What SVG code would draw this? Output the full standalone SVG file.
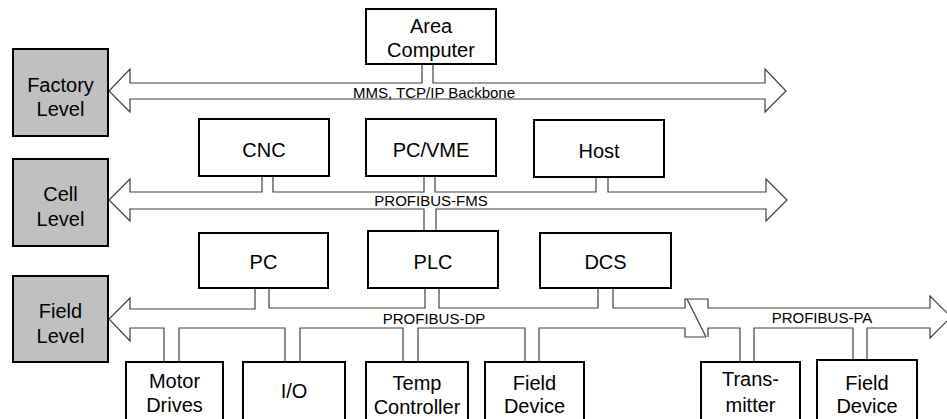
<svg xmlns="http://www.w3.org/2000/svg" width="947" height="419" viewBox="0 0 947 419">
<style>
.box{fill:#fff;stroke:#000;stroke-width:2}
.lvl{fill:#c0c0c0;stroke:#000;stroke-width:2}
.t{font-family:"Liberation Sans",Arial,sans-serif;font-size:20px;fill:#000;text-anchor:middle}
.bl{font-family:"Liberation Sans",Arial,sans-serif;font-size:15px;fill:#000;text-anchor:middle}
.bus{fill:#fff;stroke:#404040;stroke-width:1.2}
.ln{fill:none;stroke:#404040;stroke-width:1.2}
</style>
<rect width="947" height="419" fill="#fff"/>
<g id="connectors">
<path class="bus" d="M422,64 V83 H130 V69 L109,91 L130,112 V99 H765 V112 L786,91 L765,69 V83 H433 V64"/>
<path class="bus" d="M262,176 V192 H130 V179 L109,200 L130,221 V209 H424 V231 M436,231 V209 H766 V221 L787,200 L766,179 V192 H608 V177 M596,177 V192 H435 V176 M424,176 V192 H273 V176"/>
<path class="bus" d="M255,288 V309 H130 V298 L109,319 L130,341 V328 H164 V362 M179,362 V328 H285 V362 M300,362 V328 H403 V362 M418,362 V328 H525 V362 M539,362 V328 H685 V337 H706 M708,337 V328 H740 V362 M754,362 V328 H853 V360 M867,360 V328 H930 V338 L951,317 L930,296 V308 H708 V299 H685 V308 H613 V288 M598,288 V308 H439 V288 M425,288 V308 H269 V288"/>
<path class="ln" d="M687,299 L706,337"/>
</g>
<g id="bus-labels">
<text class="bl" x="434" y="98">MMS, TCP/IP Backbone</text>
<text class="bl" x="431" y="206">PROFIBUS-FMS</text>
<text class="bl" x="434" y="324">PROFIBUS-DP</text>
<text class="bl" x="822" y="323">PROFIBUS-PA</text>
</g>
<g id="factory-level"><rect class="lvl" x="13" y="49" width="95" height="87"/><text class="t" x="60.5" y="92">Factory</text><text class="t" x="60.5" y="116">Level</text></g>
<g id="cell-level"><rect class="lvl" x="13" y="159" width="95" height="87"/><text class="t" x="60.5" y="201">Cell</text><text class="t" x="60.5" y="226">Level</text></g>
<g id="field-level"><rect class="lvl" x="13" y="276" width="95" height="86"/><text class="t" x="60.5" y="318">Field</text><text class="t" x="60.5" y="343">Level</text></g>
<g id="area-computer"><rect class="box" x="366" y="9" width="130" height="55"/><text class="t" x="431" y="33">Area</text><text class="t" x="431" y="57">Computer</text></g>
<g id="cnc"><rect class="box" x="199" y="119" width="130" height="57"/><text class="t" x="264" y="157">CNC</text></g>
<g id="pc-vme"><rect class="box" x="366" y="119" width="130" height="57"/><text class="t" x="431" y="157">PC/VME</text></g>
<g id="host"><rect class="box" x="534" y="120" width="130" height="57"/><text class="t" x="599" y="158">Host</text></g>
<g id="pc"><rect class="box" x="199" y="233" width="129" height="55"/><text class="t" x="263.5" y="269">PC</text></g>
<g id="plc"><rect class="box" x="368" y="231" width="130" height="57"/><text class="t" x="433" y="269">PLC</text></g>
<g id="dcs"><rect class="box" x="540" y="233" width="131" height="55"/><text class="t" x="605.5" y="269">DCS</text></g>
<g id="motor-drives"><rect class="box" x="126" y="362" width="97" height="70"/><text class="t" x="174.5" y="388">Motor</text><text class="t" x="174.5" y="412">Drives</text></g>
<g id="io"><rect class="box" x="243" y="362" width="102" height="70"/><text class="t" x="294" y="398">I/O</text></g>
<g id="temp-controller"><rect class="box" x="366" y="362" width="102" height="70"/><text class="t" x="417" y="390">Temp</text><text class="t" x="417" y="414">Controller</text></g>
<g id="field-device-1"><rect class="box" x="485" y="362" width="99" height="70"/><text class="t" x="534.5" y="390">Field</text><text class="t" x="534.5" y="413">Device</text></g>
<g id="transmitter"><rect class="box" x="701" y="362" width="99" height="70"/><text class="t" x="750.5" y="386">Trans-</text><text class="t" x="750.5" y="412">mitter</text></g>
<g id="field-device-2"><rect class="box" x="817" y="360" width="100" height="72"/><text class="t" x="867" y="390">Field</text><text class="t" x="867" y="413">Device</text></g>
</svg>
